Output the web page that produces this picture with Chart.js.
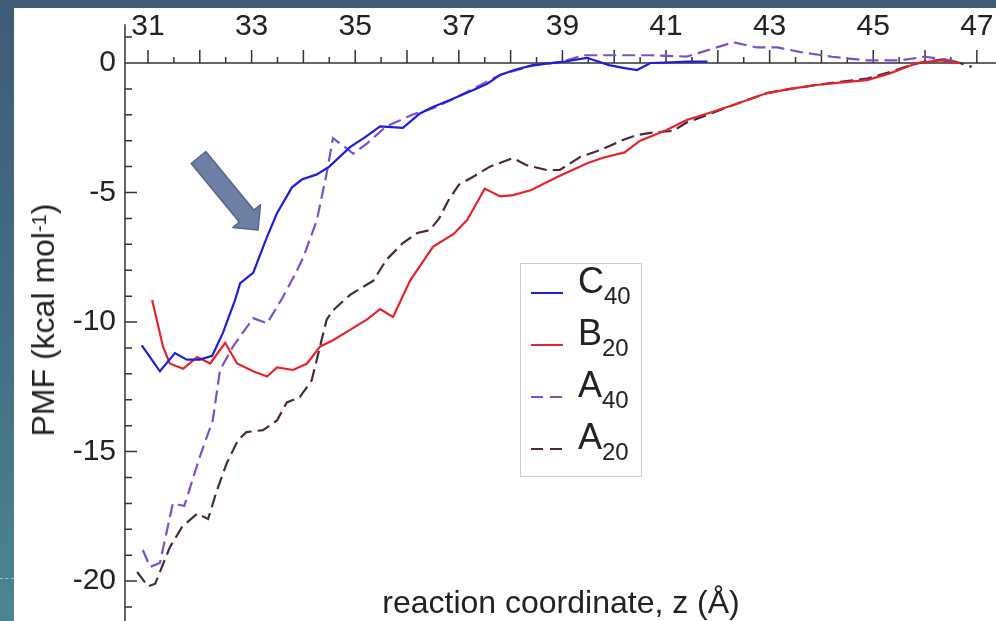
<!DOCTYPE html>
<html>
<head>
<meta charset="utf-8">
<title>PMF vs reaction coordinate</title>
<script src="https://cdn.jsdelivr.net/npm/chart.js@4.4.1/dist/chart.umd.min.js"></script>
<style>
  html, body { margin: 0; padding: 0; }
  body {
    width: 996px; height: 621px; overflow: hidden; position: relative;
    background: linear-gradient(to bottom, #3e5b76 0%, #446f86 55%, #4b8594 100%);
    font-family: "Liberation Sans", Arial, sans-serif; color: #222;
  }
  #sheet { position: absolute; left: 14px; top: 8px; width: 982px; height: 613px; background: #fff; }
  #dash { position: absolute; left: 0; top: 578px; width: 14px; border-top: 1px dashed #a9b8c4; }
  #ytitle {
    position: absolute; left: 43px; top: 320px; white-space: nowrap;
    font-size: 32px; line-height: 32px;
    transform: translate(-50%, -50%) rotate(-90deg);
  }
  #ytitle sup { font-size: 20px; position: relative; top: -4px; vertical-align: top; }
  #xtitle { position: absolute; left: 561px; top: 586px; white-space: nowrap; font-size: 32px; line-height: 32px; transform: translateX(-50%); }
  #legend {
    position: absolute; left: 520px; top: 263px; width: 120px; height: 212px;
    border: 1.5px solid #cfcfcf; background: #fff;
  }
  .row { position: absolute; left: 0; width: 120px; height: 0; }
  .swatch { position: absolute; left: 10px; top: -1px; width: 32px; height: 2px; }
  .lab { position: absolute; left: 57px; top: -30px; font-size: 36px; line-height: 36px; white-space: nowrap; }
  .lab span { font-size: 24px; position: relative; top: 11px; }
  #arrow { position: absolute; left: 0; top: 0; }
</style>
</head>
<body>
<div id="sheet"><canvas id="pmfChart"></canvas></div>
<div id="dash"></div>
<div id="ytitle">PMF (kcal mol<sup>-1</sup>)</div>
<div id="xtitle">reaction coordinate, z (Å)</div>
<div id="legend"></div>
<svg id="arrow" width="300" height="260">
  <polygon points="205.8,151.5 253.9,210.1 260.5,204.7 258,230 232.7,227.5 239.3,222.1 191.2,163.5"
           fill="#6e7fa6" stroke="#56668c" stroke-width="1.5" stroke-linejoin="round"/>
</svg>
<script>
// axis ranges
const xMin = 30.556, xMax = 47.37;
const yMin = -21.54, yMax = 0;
const xTickLabels = [31, 33, 35, 37, 39, 41, 43, 45, 47];
const yTickLabels = [0, -5, -10, -15, -20];

const seriesNames = ['C40', 'B20', 'A40', 'A20'];

const c40X = [30.88, 31.23, 31.52, 31.75, 32.0, 32.24, 32.45, 32.68, 32.78, 33.03, 33.3, 33.49, 33.78, 33.97, 34.26, 34.5, 34.9, 35.2, 35.48, 35.92, 36.25, 36.5, 36.83, 37.27, 37.55, 37.8, 38.1, 38.43, 39.0, 39.47, 39.9, 40.2, 40.44, 40.7, 41.0, 41.4, 41.8];
const c40Y = [-10.9, -11.9, -11.2, -11.45, -11.45, -11.3, -10.4, -9.15, -8.5, -8.1, -6.7, -5.8, -4.8, -4.5, -4.3, -4.0, -3.25, -2.85, -2.45, -2.5, -1.95, -1.7, -1.43, -1.05, -0.8, -0.46, -0.25, -0.08, 0.04, 0.2, -0.08, -0.2, -0.27, 0, 0.02, 0.05, 0.05];

const b20X = [31.08, 31.29, 31.42, 31.68, 31.95, 32.2, 32.49, 32.72, 33.03, 33.3, 33.49, 33.8, 34.07, 34.32, 34.57, 34.9, 35.23, 35.48, 35.73, 36.06, 36.5, 36.9, 37.16, 37.5, 37.8, 38.05, 38.4, 38.9, 39.5, 39.8, 40.2, 40.5, 41.0, 41.4, 41.8, 42.3, 42.95, 43.4, 43.9, 44.4, 44.88, 45.32, 45.85, 46.3, 46.67];
const b20Y = [-9.15, -10.95, -11.6, -11.8, -11.35, -11.6, -10.8, -11.6, -11.9, -12.1, -11.75, -11.85, -11.6, -10.95, -10.7, -10.3, -9.9, -9.5, -9.8, -8.4, -7.1, -6.6, -6.06, -4.85, -5.15, -5.1, -4.9, -4.4, -3.85, -3.65, -3.45, -3.0, -2.6, -2.2, -1.95, -1.62, -1.16, -1.0, -0.85, -0.75, -0.66, -0.4, 0, 0.1, 0];

const a40X = [30.9, 31.04, 31.23, 31.48, 31.7, 32.0, 32.25, 32.39, 32.64, 33.03, 33.3, 33.6, 33.8, 34.0, 34.26, 34.45, 34.57, 34.77, 34.96, 35.23, 35.6, 36.1, 36.5, 36.83, 37.27, 37.8, 38.43, 39.0, 39.4, 40.05, 40.7, 41.4, 41.65, 42.3, 42.75, 43.15, 43.6, 44.2, 44.88, 45.5, 46.0, 46.5, 46.67];
const a40Y = [-18.8, -19.45, -19.3, -17.0, -17.1, -15.2, -13.8, -11.85, -10.95, -9.85, -10.05, -9.05, -8.3, -7.5, -6.06, -4.25, -2.9, -3.2, -3.5, -3.1, -2.45, -2.0, -1.75, -1.45, -1.0, -0.45, -0.1, 0.05, 0.3, 0.3, 0.3, 0.25, 0.4, 0.8, 0.6, 0.6, 0.42, 0.24, 0.1, 0.1, 0.24, 0.1, 0.0];

const a20X = [30.79, 31.0, 31.14, 31.42, 31.66, 31.95, 32.16, 32.33, 32.52, 32.74, 32.9, 33.22, 33.49, 33.68, 33.93, 34.16, 34.32, 34.45, 34.57, 34.9, 35.35, 35.6, 35.92, 36.2, 36.44, 36.62, 36.8, 37.0, 37.27, 37.6, 38.05, 38.3, 38.7, 38.95, 39.34, 39.73, 40.17, 40.44, 40.7, 41.13, 41.4, 41.8, 42.3, 42.95, 43.4, 43.9, 44.4, 44.88, 45.32, 45.7, 46.0, 46.4, 46.67, 46.9];
const a20Y = [-19.65, -20.2, -20.1, -18.7, -17.9, -17.4, -17.6, -16.5, -15.45, -14.55, -14.25, -14.17, -13.8, -13.1, -12.9, -12.25, -10.95, -9.9, -9.55, -8.95, -8.4, -7.6, -6.95, -6.56, -6.45, -6.0, -5.3, -4.7, -4.4, -4.0, -3.67, -3.94, -4.13, -4.13, -3.63, -3.36, -2.97, -2.78, -2.7, -2.62, -2.3, -2.0, -1.62, -1.16, -1.0, -0.85, -0.72, -0.6, -0.35, -0.1, 0.05, 0.15, 0.0, -0.15];

const seriesColors = ['#1e1ed8', '#e6232b', '#7a50d0', '#4a2742'];
const seriesDash = [[], [], [13, 6], [13, 6]];

const fontFamily = '"Liberation Sans", Arial, sans-serif';

function pts(xs, ys) {
    const n = Math.min(xs.length, ys.length);
    const out = [];
    for (let i = 0; i < n; i++) out.push({ x: xs[i], y: ys[i] });
    return out;
}

const seriesData = [pts(c40X, c40Y), pts(b20X, b20Y), pts(a40X, a40Y), pts(a20X, a20Y)];

// axis lines + ticks (inward on y, upward on the x axis drawn at PMF = 0)
const axesFrame = {
    id: 'axesFrame',
    beforeDatasetsDraw(chart) {
        const { ctx, chartArea } = chart;
        const sx = chart.scales.x, sy = chart.scales.y;
        const y0 = sy.getPixelForValue(0);
        ctx.save();
        ctx.strokeStyle = '#333';
        ctx.lineWidth = 1.5;
        ctx.beginPath();
        ctx.moveTo(chartArea.left, sy.getPixelForValue(1.5));
        ctx.lineTo(chartArea.left, chartArea.bottom);
        ctx.moveTo(chartArea.left, y0);
        ctx.lineTo(chartArea.right, y0);
        for (let v = Math.ceil(sx.min * 2) / 2; v <= sx.max; v += 0.5) {
            const px = sx.getPixelForValue(v);
            const len = Number.isInteger(v) ? 13 : 6;
            ctx.moveTo(px, y0);
            ctx.lineTo(px, y0 - len);
        }
        for (let v = Math.ceil(sy.min); v <= 1; v++) {
            const py = sy.getPixelForValue(v);
            const len = v % 5 === 0 ? 12 : 7;
            ctx.moveTo(chartArea.left, py);
            ctx.lineTo(chartArea.left + len, py);
        }
        ctx.stroke();
        ctx.restore();
    }
};

const ctx = document.getElementById('pmfChart').getContext('2d');
const pmfChart = new Chart(ctx, {
    type: 'line',
    data: {
        datasets: seriesNames.map((name, i) => ({
            label: name,
            data: seriesData[i],
            borderColor: seriesColors[i],
            borderDash: seriesDash[i],
            borderWidth: 2.2,
            pointRadius: 0,
            tension: 0,
            fill: false,
            clip: false
        }))
    },
    options: {
        responsive: true,
        maintainAspectRatio: false,
        animation: false,
        layout: { padding: 0 },
        plugins: {
            legend: { display: false },
            tooltip: { enabled: false }
        },
        scales: {
            x: {
                type: 'linear',
                position: 'top',
                min: xMin,
                max: xMax,
                grid: { display: false, drawTicks: false },
                border: { display: false },
                ticks: {
                    stepSize: 1,
                    autoSkip: false,
                    includeBounds: false,
                    maxRotation: 0,
                    padding: 18,
                    color: '#222',
                    font: { family: fontFamily, size: 30 },
                    callback: v => xTickLabels.includes(v) ? String(v) : ''
                },
                afterFit(s) { s.height = 55; s.paddingLeft = 0; s.paddingRight = 0; }
            },
            y: {
                type: 'linear',
                position: 'left',
                min: yMin,
                max: yMax,
                grid: { display: false, drawTicks: false },
                border: { display: false },
                ticks: {
                    stepSize: 1,
                    autoSkip: false,
                    includeBounds: false,
                    padding: 9,
                    color: '#222',
                    font: { family: fontFamily, size: 30 },
                    callback: v => yTickLabels.includes(v) ? String(v) : ''
                },
                afterFit(s) { s.width = 111; s.paddingTop = 0; s.paddingBottom = 0; }
            }
        }
    },
    plugins: [axesFrame]
});

// legend with subscripts, built from the same series
const legend = document.getElementById('legend');
seriesNames.forEach((name, i) => {
    const row = document.createElement('div');
    row.className = 'row';
    row.style.top = (29 + 52 * i) + 'px';
    const sw = document.createElement('div');
    sw.className = 'swatch';
    const c = seriesColors[i];
    sw.style.background = seriesDash[i].length
        ? `linear-gradient(to right, ${c} 0 12px, transparent 12px 19px, ${c} 19px 31px, transparent 31px)`
        : c;
    const lab = document.createElement('div');
    lab.className = 'lab';
    lab.innerHTML = name.charAt(0) + '<span>' + name.slice(1) + '</span>';
    row.appendChild(sw);
    row.appendChild(lab);
    legend.appendChild(row);
});
</script>
</body>
</html>
